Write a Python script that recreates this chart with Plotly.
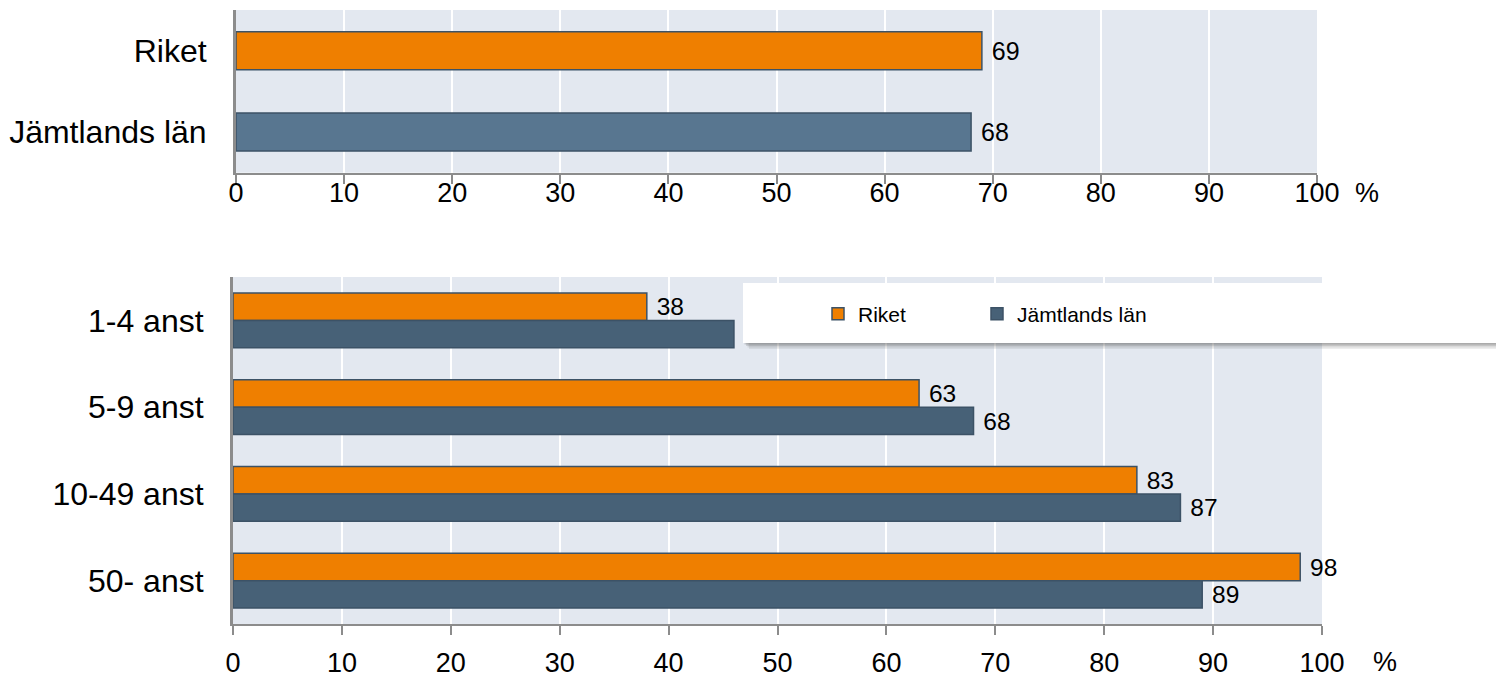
import plotly.graph_objects as go

# ---- data ----
top_categories = ["Riket", "Jämtlands län"]
top_values = [69, 68]

size_categories = ["1-4 anst", "5-9 anst", "10-49 anst", "50- anst"]
riket_values = [38, 63, 83, 98]
jamtland_values = [46, 68, 87, 89]

series_names = ["Riket", "Jämtlands län"]
x_ticks = [0, 10, 20, 30, 40, 50, 60, 70, 80, 90, 100]

# ---- style ----
W, H = 1496, 678
ORANGE = "#EF7F00"
BLUE_TOP = "#587690"
BLUE = "#476177"
EDGE = "#3C5266"
BG = "#E3E8F0"
AXIS = "#8C8C8C"
FONT = "Liberation Sans, Arial, sans-serif"

def px(v):
    return v / W

def py(v):
    return 1 - v / H

fig = go.Figure()

fig.add_trace(go.Bar(
    y=top_categories, x=top_values, orientation="h", width=0.467,
    marker=dict(color=[ORANGE, BLUE_TOP], line=dict(color=EDGE, width=1.5)),
    text=top_values, texttemplate="\u00a0%{x}", textposition="outside",
    textfont=dict(size=25, color="#000", family=FONT),
    cliponaxis=False, showlegend=False, xaxis="x", yaxis="y",
))

fig.add_trace(go.Bar(
    name=series_names[0], y=size_categories, x=riket_values, orientation="h",
    marker=dict(color=ORANGE, line=dict(color=EDGE, width=1.5)),
    text=riket_values, texttemplate="\u00a0%{x}", textposition="outside",
    textfont=dict(size=25, color="#000", family=FONT),
    cliponaxis=False, xaxis="x2", yaxis="y2", legend="legend",
))
fig.add_trace(go.Bar(
    name=series_names[1], y=size_categories, x=jamtland_values, orientation="h",
    marker=dict(color=BLUE, line=dict(color=EDGE, width=1.5)),
    text=jamtland_values, texttemplate="\u00a0%{x}", textposition="outside",
    textfont=dict(size=25, color="#000", family=FONT),
    cliponaxis=False, xaxis="x2", yaxis="y2", legend="legend2",
))

xaxis_common = dict(
    range=[0, 100], tickvals=x_ticks, ticktext=[str(t) for t in x_ticks],
    showgrid=True, gridcolor="white", gridwidth=2,
    showline=True, linecolor=AXIS, linewidth=2,
    ticks="outside", ticklen=9, tickwidth=2, tickcolor=AXIS,
    tickfont=dict(size=27, color="#000", family=FONT),
    zeroline=False, fixedrange=True, automargin=False,
)
yaxis_common = dict(
    autorange="reversed", showline=True, linecolor=AXIS, linewidth=3,
    ticks="", showgrid=False,
    tickfont=dict(size=32, color="#000", family=FONT),
    ticklabelstandoff=20, automargin=False, fixedrange=True,
)

# legend box with a soft shadow (drawn above bars, below legend)
shapes = []
for i, op in enumerate([0.10, 0.12, 0.16, 0.22]):
    off = 6 - i * 1.5
    shapes.append(dict(type="rect", xref="paper", yref="paper", layer="above",
                       x0=px(743 + off), x1=px(1500), y0=py(343 + off), y1=py(283 + off),
                       fillcolor=f"rgba(80,80,80,{op})", line=dict(width=0)))
shapes.append(dict(type="rect", xref="paper", yref="paper", layer="above",
                   x0=px(743), x1=px(1500), y0=py(343), y1=py(283),
                   fillcolor="white", line=dict(width=0)))

legend_common = dict(orientation="h", xanchor="left", y=py(314), yanchor="middle",
                     bgcolor="rgba(0,0,0,0)", borderwidth=0,
                     font=dict(size=21, family=FONT, color="#000"))

fig.update_layout(
    width=W, height=H, margin=dict(l=0, r=0, t=0, b=0, autoexpand=False),
    paper_bgcolor="white", plot_bgcolor=BG,
    font=dict(family=FONT, color="#000"),
    barmode="group",
    xaxis=dict(domain=[px(236), px(1317)], anchor="y", ticklabelstandoff=-14, **xaxis_common),
    yaxis=dict(domain=[py(172.7), py(10)], anchor="x", **yaxis_common),
    xaxis2=dict(domain=[px(233), px(1322)], anchor="y2", ticklabelstandoff=5, **xaxis_common),
    yaxis2=dict(domain=[py(624), py(277)], anchor="x2", **yaxis_common),
    bargap=0.366,
    shapes=shapes,
    legend=dict(x=px(818), **legend_common),
    legend2=dict(x=px(977), **legend_common),
    annotations=[
        dict(text="%", xref="paper", yref="paper", x=px(1367), y=py(193),
             xanchor="center", yanchor="middle",
             showarrow=False, font=dict(size=27, family=FONT, color="#000")),
        dict(text="%", xref="paper", yref="paper", x=px(1385), y=py(662),
             xanchor="center", yanchor="middle",
             showarrow=False, font=dict(size=27, family=FONT, color="#000")),
    ],
)

fig.write_html(
    "out.html",
    config={"displayModeBar": False},
    post_script="document.body.style.margin='0';document.body.style.padding='0';"
                "document.body.style.overflow='hidden';",
)
